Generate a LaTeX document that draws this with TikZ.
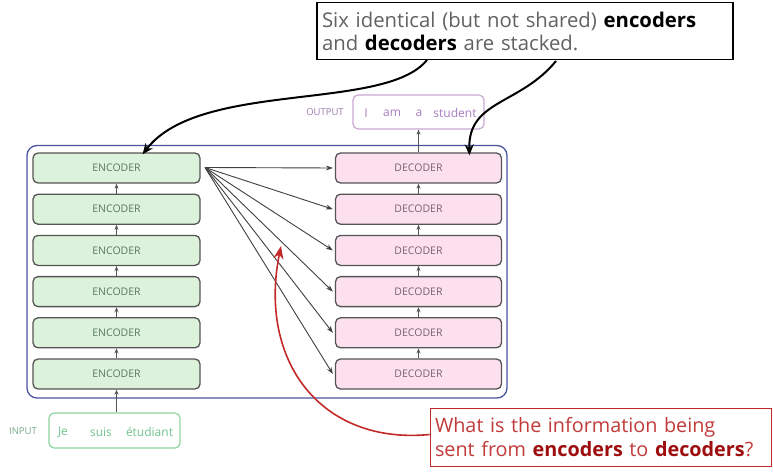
\documentclass[tikz,border=0pt]{standalone}
\usepackage{fontspec}
\setmainfont{Open Sans}
\usetikzlibrary{arrows.meta}
\definecolor{encfill}{HTML}{DDF2DA}
\definecolor{decfill}{HTML}{FDE0EE}
\definecolor{boxline}{HTML}{555555}
\definecolor{enctext}{HTML}{587A5E}
\definecolor{dectext}{HTML}{786272}
\definecolor{outer}{HTML}{4A55A0}
\definecolor{outline}{HTML}{C8A8D4}
\definecolor{outtext}{HTML}{A77CC0}
\definecolor{inline}{HTML}{8ED4A0}
\definecolor{intext}{HTML}{72C48E}
\definecolor{redline}{HTML}{C42A2A}
\definecolor{redtext}{HTML}{C23A3A}
\definecolor{redbold}{HTML}{9E0E0E}
\tikzset{
  enc/.style={draw=boxline, line width=1.3pt, fill=encfill, rounded corners=5pt,
    minimum width=167pt, minimum height=30pt, inner sep=0pt,
    font=\fontsize{10.5}{11}\selectfont, text=enctext},
  dec/.style={draw=boxline, line width=1.3pt, fill=decfill, rounded corners=5pt,
    minimum width=166pt, minimum height=30pt, inner sep=0pt,
    font=\fontsize{10.5}{11}\selectfont, text=dectext},
  uparr/.style={draw=boxline, line width=0.8pt, -{Stealth[length=5pt,width=4pt]}},
  fan/.style={draw=black!75, line width=0.9pt, -{Stealth[length=7pt,width=5pt]}},
  callarr/.style={draw=black, line width=2pt, -{Stealth[length=11pt,width=9pt]}},
  redarr/.style={draw=redline, line width=1.6pt, -{Stealth[length=13pt,width=10pt]}},
  word/.style={inner sep=0pt, font=\fontsize{12}{13}\selectfont},
  small/.style={inner sep=0pt, font=\fontsize{9.5}{10}\selectfont}
}
\begin{document}
\begin{tikzpicture}[x=1pt,y=-1pt]
\useasboundingbox (0,0) rectangle (773,473);
\fill[white] (0,0) rectangle (773,473);
% outer box
\draw[outer, line width=1.3pt, rounded corners=10pt] (27,145.5) rectangle (507,398);
% encoders and decoders
\foreach \i/\y in {1/168,2/209.2,3/250.4,4/291.6,5/332.8,6/374} {
  \node[enc] (e\i) at (116.5,\y) {ENCODER};
  \node[dec] (d\i) at (418.5,\y) {DECODER};
}
\foreach \a/\b in {2/1,3/2,4/3,5/4,6/5} {
  \draw[uparr] (e\a.north) -- (e\b.south);
  \draw[uparr] (d\a.north) -- (d\b.south);
}
% output box
\node[draw=outline, line width=1.2pt, rounded corners=5pt, minimum width=131pt, minimum height=34pt] (out) at (418.5,112) {};
\node[word, text=outtext] (o1) at (366,113) {I};
\node[word, text=outtext] (o2) at (392,113) {am};
\node[word, text=outtext] (o3) at (419,113) {a};
\node[word, text=outtext] (o4) at (455,113) {student};
\node[small, text=outtext!70!gray] (olab) at (325,112) {OUTPUT};
\draw[uparr] (d1.north) -- (out.south);
% input box
\node[draw=inline, line width=1.2pt, rounded corners=5pt, minimum width=131pt, minimum height=35pt] (in) at (114.5,430.5) {};
\node[word, text=intext] (i1) at (63,432) {Je};
\node[word, text=intext] (i2) at (101,432) {suis};
\node[word, text=intext] (i3) at (149.5,432) {étudiant};
\node[small, text=intext!60!gray] (ilab) at (23,431) {INPUT};
\draw[uparr, line width=1pt] (in.north -| e6.south) -- (e6.south);
% fan arrows
\coordinate (src) at (205,167.5);
\foreach \i in {1,...,6} {
  \draw[fan] (src) -- ([xshift=-2pt]d\i.west);
}
% top callout
\node[draw=black, line width=1.6pt, fill=white, minimum width=416pt, minimum height=57pt, text width=406pt, align=left, inner sep=0pt,
  font=\fontsize{20.3}{23}\selectfont, text=black!62] (top) at (525,31)
  {Six identical (but not shared) \textcolor{black}{\textbf{encoders}}\\and \textcolor{black}{\textbf{decoders}} are stacked.};
\coordinate (t1) at (427,60);
\coordinate (t2) at (556,61);
\draw[callarr] (t1) .. controls (385,112) and (200,80) .. ([xshift=26pt,yshift=-2pt]e1.north);
\draw[callarr] (t2) .. controls (520,105) and (468,100) .. ([xshift=51pt,yshift=-3pt]d1.north);
% red callout
\node[draw=redline, line width=1.6pt, fill=white, minimum width=341pt, minimum height=58pt, text width=332pt, align=left, inner sep=0pt,
  font=\fontsize{19.8}{24}\selectfont, text=redtext] (red) at (601,437.5)
  {What is the information being\\sent from \textcolor{redbold}{\textbf{encoders}} to \textcolor{redbold}{\textbf{decoders}}?};
\coordinate (rtip) at (281,246);
\draw[redarr] ([yshift=3pt]red.west) .. controls (320,445) and (258,360) .. (rtip);
\end{tikzpicture}
\end{document}
